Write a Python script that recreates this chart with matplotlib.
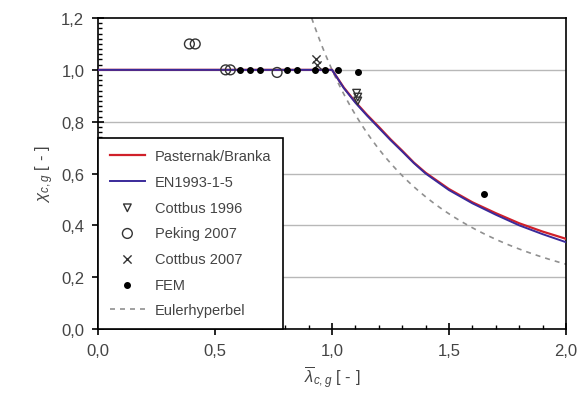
import numpy as np
from matplotlib import pyplot as plt
from matplotlib.ticker import MultipleLocator, FuncFormatter

plt.rcParams["font.family"] = ["Liberation Sans", "DejaVu Sans"]
plt.rcParams["mathtext.fontset"] = "custom"
plt.rcParams["mathtext.rm"] = "Liberation Sans"
plt.rcParams["mathtext.it"] = "Liberation Sans:italic"

# curves
lam_pb = [0.0, 1.0, 1.05, 1.1, 1.15, 1.2, 1.25, 1.3, 1.35, 1.4, 1.5, 1.6, 1.7, 1.8, 1.9, 2.0]
chi_pb = [1.0, 1.0, 0.932, 0.876, 0.826, 0.78, 0.732, 0.688, 0.642, 0.603, 0.54, 0.489, 0.447, 0.408, 0.376, 0.348]
lam_en = [0.0, 1.0, 1.05, 1.1, 1.15, 1.2, 1.25, 1.3, 1.35, 1.4, 1.5, 1.6, 1.7, 1.8, 1.9, 2.0]
chi_en = [1.0, 1.0, 0.93, 0.873, 0.823, 0.776, 0.729, 0.685, 0.64, 0.6, 0.536, 0.485, 0.441, 0.40, 0.366, 0.335]

lam_c96 = [1.105, 1.11, 1.11]
chi_c96 = [0.91, 0.895, 0.88]
lam_pek = [0.39, 0.415, 0.545, 0.565, 0.765]
chi_pek = [1.10, 1.10, 1.0, 1.0, 0.99]
lam_c07 = [0.93, 0.935]
chi_c07 = [1.04, 1.02]
lam_fem = [0.607, 0.65, 0.69, 0.806, 0.849, 0.927, 0.97, 1.025, 1.11, 1.65]
chi_fem = [1.0, 1.0, 1.0, 1.0, 1.0, 1.0, 1.0, 1.0, 0.99, 0.52]

lam_euler = np.linspace(0.85, 2.0, 200)

fig = plt.figure(figsize=(5.81, 4.14), dpi=100)
ax = fig.add_axes([0.169, 0.203, 0.805, 0.751])

for yv in [0.2, 0.4, 0.6, 0.8, 1.0]:
    ax.axhline(yv, color="#b8b8b8", lw=1.0, zorder=0)

ax.plot(lam_pb, chi_pb, color="#d0202a", lw=1.6, label="Pasternak/Branka", zorder=3)
ax.plot(lam_en, chi_en, color="#3a2a9a", lw=1.4, label="EN1993-1-5", zorder=4)
ax.scatter(lam_c96, chi_c96, marker="v", facecolors="none", edgecolors="#333333",
           s=30, lw=1.0, label="Cottbus 1996", zorder=5)
ax.scatter(lam_pek, chi_pek, marker="o", facecolors="none", edgecolors="#333333",
           s=50, lw=1.0, label="Peking 2007", zorder=5)
ax.scatter(lam_c07, chi_c07, marker="x", color="#333333", s=35, lw=1.0,
           label="Cottbus 2007", zorder=5)
ax.scatter(lam_fem, chi_fem, marker="o", color="black", s=16, label="FEM", zorder=6)
ax.plot(lam_euler, 1 / lam_euler**2, color="#909090", lw=1.2, ls=(0, (3, 3)),
        label="Eulerhyperbel", zorder=2)

ax.set_xlim(0, 2.0)
ax.set_ylim(0, 1.2)
ax.xaxis.set_major_locator(MultipleLocator(0.5))
ax.xaxis.set_minor_locator(MultipleLocator(0.1))
ax.yaxis.set_major_locator(MultipleLocator(0.2))
ax.yaxis.set_minor_locator(MultipleLocator(0.02))
fmt = FuncFormatter(lambda v, p: f"{v:.1f}".replace(".", ","))
ax.xaxis.set_major_formatter(fmt)
ax.yaxis.set_major_formatter(fmt)
ax.tick_params(which="major", direction="inout", length=8, width=1.2, labelsize=12,
               labelcolor="#444444", pad=6)
ax.tick_params(which="minor", direction="in", length=3, width=1.0)
for s in ax.spines.values():
    s.set_linewidth(1.2)

ax.set_xlabel(r"$\overline{\lambda}_{c,g}$ [ - ]", fontsize=12, color="#444444")
ax.set_ylabel(r"$\chi_{c,g}$ [ - ]", fontsize=12, color="#444444")

leg = ax.legend(loc="lower left", borderaxespad=0, fancybox=False, framealpha=1,
                edgecolor="black", fontsize=10.5, handlelength=2.4, labelspacing=0.8,
                borderpad=0.8, handletextpad=0.7)
leg.get_frame().set_linewidth(1.2)
for t in leg.get_texts():
    t.set_color("#444444")

fig.savefig("out.png", dpi=100)
